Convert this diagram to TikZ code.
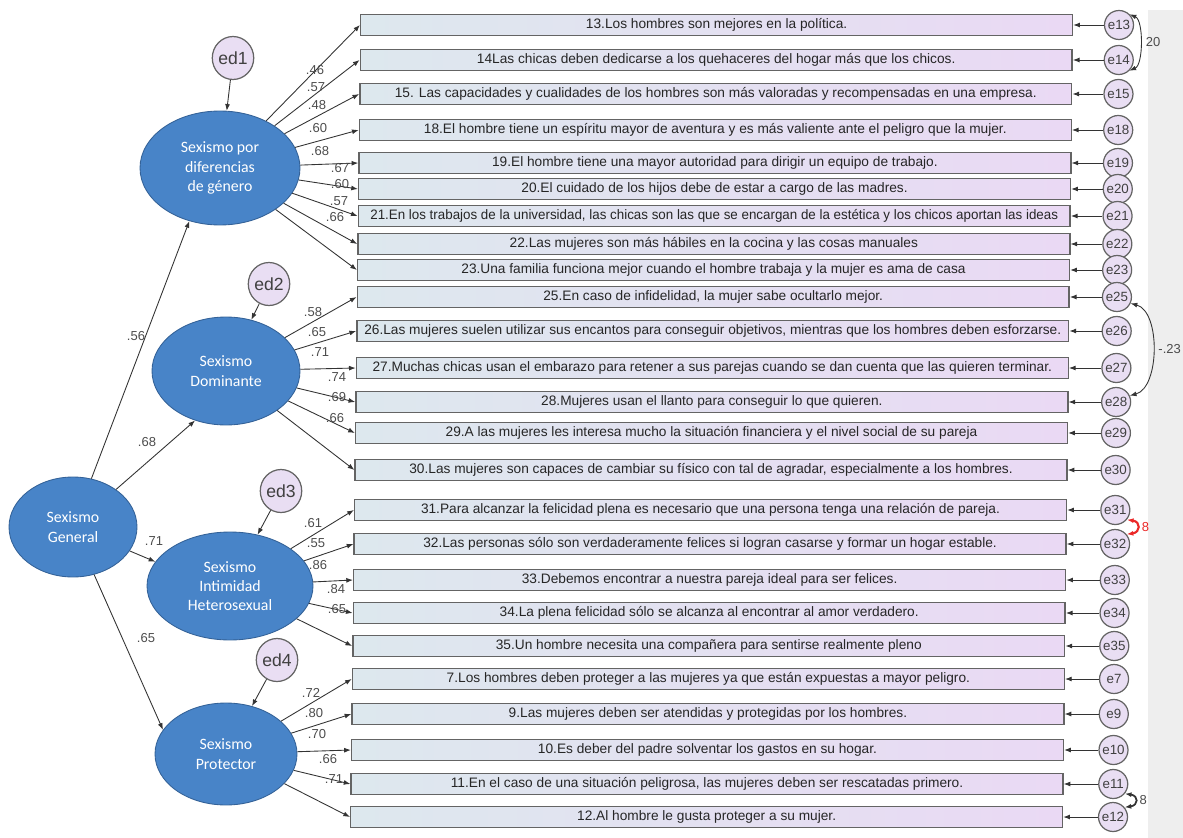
\documentclass[tikz,border=0pt]{standalone}
\usepackage{fontspec}
\usepackage{graphicx}
\setmainfont{Liberation Sans}
\newfontfamily\latfont{Carlito}
\usetikzlibrary{shapes.geometric,arrows.meta}

\definecolor{latblue}{RGB}{72,132,200}
\definecolor{latedge}{RGB}{52,98,152}
\definecolor{errfill}{RGB}{233,222,243}
\definecolor{boxleft}{RGB}{221,232,238}
\definecolor{boxright}{RGB}{234,217,244}
\definecolor{edgegray}{RGB}{100,100,100}
\definecolor{bandgray}{RGB}{238,238,238}
\definecolor{covred}{RGB}{235,40,40}

\tikzset{
  latent/.style={ellipse, fill=latblue, draw=latedge, line width=0.5pt, text=white,
    align=center, inner sep=0pt, font=\latfont\fontsize{9}{11}\selectfont},
  item/.style={rectangle, draw=edgegray, line width=0.8pt, left color=boxleft,
    right color=boxright, minimum width=14.24cm, minimum height=0.42cm, inner sep=0pt,
    anchor=west, text=black!85, font=\fontsize{7.8}{8}\selectfont},
  err/.style={circle, draw=edgegray, line width=0.7pt, fill=errfill, minimum size=0.58cm,
    inner sep=0pt, text=black!75, font=\fontsize{7.6}{8}\selectfont},
  dist/.style={ellipse, draw=edgegray, line width=0.7pt, fill=errfill, minimum width=0.8cm,
    minimum height=0.86cm, inner sep=0pt, text=black!75, font=\fontsize{10}{12}\selectfont},
  link/.style={-{Latex[length=3.8pt,width=2.8pt]}, line width=0.5pt, black!80},
  cov/.style={{Latex[length=3.8pt,width=2.8pt]}-{Latex[length=3.8pt,width=2.8pt]},
    line width=0.5pt, black!80},
  coef/.style={inner sep=0pt, text=black!70, font=\fontsize{7.4}{8}\selectfont},
}

\begin{document}
\begin{tikzpicture}[x=0.02cm, y=-0.02cm]
  \useasboundingbox (0,0) rectangle (1183,838);

  % franja gris de la derecha
  \fill[bandgray] (1148,10) rectangle (1183,838);

  % Factores latentes
  \node[latent, minimum width=2.56cm, minimum height=2cm] (gen) at (73,527) {Sexismo\\General};
  \node[latent, minimum width=3.2cm, minimum height=2.28cm] (dif) at (220,168) {Sexismo por\\diferencias\\de género};
  \node[latent, minimum width=2.96cm, minimum height=2.16cm] (dom) at (226,371) {Sexismo\\Dominante};
  \node[latent, minimum width=3.32cm, minimum height=2.16cm] (int) at (230,586) {Sexismo\\Intimidad\\Heterosexual};
  \node[latent, minimum width=2.84cm, minimum height=2.04cm] (pro) at (226,754) {Sexismo\\Protector};

  % Perturbaciones
  \node[dist] (ed1) at (233,58) {ed1};
  \node[dist] (ed2) at (269,284) {ed2};
  \node[dist] (ed3) at (281,491) {ed3};
  \node[dist] (ed4) at (277,660) {ed4};

  % Sexismo por diferencias de género
  \foreach \n/\y/\w/\lx/\ly/\txt in {
    13/25/.46/315/70/{13.Los hombres son mejores en la política.},
    14/60/.57/316/87/{14Las chicas deben dedicarse a los quehaceres del hogar más que los chicos.},
    15/94/.48/317/105/{15. Las capacidades y cualidades de los hombres son más valoradas y recompensadas en una empresa.},
    18/130/.60/318/128/{18.El hombre tiene un espíritu mayor de aventura y es más valiente ante el peligro que la mujer.},
    19/163/.68/320/151/{19.El hombre tiene una mayor autoridad para dirigir un equipo de trabajo.},
    20/189/.67/340/168/{20.El cuidado de los hijos debe de estar a cargo de las madres.},
    21/216/.60/340/184/{\scalebox{0.975}[1]{21.En los trabajos de la universidad, las chicas son las que se encargan de la estética y los chicos aportan las ideas}},
    22/244/.57/339/201/{22.Las mujeres son más hábiles en la cocina y las cosas manuales},
    23/270/.66/335/217/{23.Una familia funciona mejor cuando el hombre trabaja y la mujer es ama de casa}}{
    \pgfmathsetmacro\dx{10*(\y-25)/792}
    \node[item] (b\n) at ({360-\dx},\y) {\txt};
    \node[err] (e\n) at ({1119-0.6*\dx},\y) {e\n};
    \draw[link] (e\n) -- (b\n);
    \draw[link] (dif) -- (b\n.west);
    \node[coef] (c\n) at (\lx,\ly) {\w};
  }

  % Sexismo dominante
  \foreach \n/\y/\w/\lx/\ly/\txt in {
    25/297/.58/313/312/{25.En caso de infidelidad, la mujer sabe ocultarlo mejor.},
    26/331/.65/317/332/{26.Las mujeres suelen utilizar sus encantos para conseguir objetivos, mientras que los hombres deben esforzarse.},
    27/368/.71/320/352/{27.Muchas chicas usan el embarazo para retener a sus parejas cuando se dan cuenta que las quieren terminar.},
    28/402/.74/337/377/{28.Mujeres usan el llanto para conseguir lo que quieren.},
    29/433/.69/337/397/{29.A las mujeres les interesa mucho la situación financiera y el nivel social de su pareja},
    30/470/.66/335/418/{30.Las mujeres son capaces de cambiar su físico con tal de agradar, especialmente a los hombres.}}{
    \pgfmathsetmacro\dx{10*(\y-25)/792}
    \node[item] (b\n) at ({360-\dx},\y) {\txt};
    \node[err] (e\n) at ({1119-0.6*\dx},\y) {e\n};
    \draw[link] (e\n) -- (b\n);
    \draw[link] (dom) -- (b\n.west);
    \node[coef] (c\n) at (\lx,\ly) {\w};
  }

  % Sexismo intimidad heterosexual
  \foreach \n/\y/\w/\lx/\ly/\txt in {
    31/510/.61/313/523/{31.Para alcanzar la felicidad plena es necesario que una persona tenga una relación de pareja.},
    32/544/.55/316/543/{32.Las personas sólo son verdaderamente felices si logran casarse y formar un hogar estable.},
    33/580/.86/318/565/{33.Debemos encontrar a nuestra pareja ideal para ser felices.},
    34/613/.84/336/589/{34.La plena felicidad sólo se alcanza al encontrar al amor verdadero.},
    35/646/.65/337/609/{35.Un hombre necesita una compañera para sentirse realmente pleno}}{
    \pgfmathsetmacro\dx{10*(\y-25)/792}
    \node[item] (b\n) at ({360-\dx},\y) {\txt};
    \node[err] (e\n) at ({1119-0.6*\dx},\y) {e\n};
    \draw[link] (e\n) -- (b\n);
    \draw[link] (int) -- (b\n.west);
    \node[coef] (c\n) at (\lx,\ly) {\w};
  }

  % Sexismo protector
  \foreach \n/\y/\txt in {
    7/679/{7.Los hombres deben proteger a las mujeres ya que están expuestas a mayor peligro.},
    9/714/{9.Las mujeres deben ser atendidas y protegidas por los hombres.},
    10/750/{10.Es deber del padre solventar los gastos en su hogar.},
    11/784/{11.En el caso de una situación peligrosa, las mujeres deben ser rescatadas primero.},
    12/817/{12.Al hombre le gusta proteger a su mujer.}}{
    \pgfmathsetmacro\dx{10*(\y-25)/792}
    \node[item] (b\n) at ({360-\dx},\y) {\txt};
    \node[err] (e\n) at ({1119-0.6*\dx},\y) {e\n};
    \draw[link] (e\n) -- (b\n);
    \draw[link] (pro) -- (b\n.west);
  }
  \foreach \n/\w/\lx/\ly in {7/.72/311/693, 9/.80/314/713, 10/.70/317/734, 11/.66/328/759, 12/.71/334/779}
    \node[coef] (c\n) at (\lx,\ly) {\w};

  % Perturbaciones a factores
  \draw[link] (ed1) -- (dif);
  \draw[link] (ed2) -- (dom);
  \draw[link] (ed3) -- (int);
  \draw[link] (ed4) -- (pro);

  % Factor general
  \draw[link] (gen) -- (dif.240);
  \draw[link] (gen) -- (dom.238);
  \draw[link] (gen) -- (int.162);
  \draw[link] (gen) -- (pro.159);
  \node[coef] (g1) at (136,336) {.56};
  \node[coef] (g2) at (147,442) {.68};
  \node[coef] (g3) at (154,541) {.71};
  \node[coef] (g4) at (146,638) {.65};

  % Covarianzas
  \draw[cov] (e13.45) .. controls +(14,6) and +(14,-6) .. (e14.-45)
    node[coef, pos=0.5, right, xshift=3pt] (r1) {20};
  \draw[cov] (e25.-25) .. controls +(30,8) and +(30,-8) .. (e28.25)
    node[coef, pos=0.5, right, xshift=3pt] (r2) {-.23};
  \draw[cov, covred, line width=1.2pt] (e31.-40) .. controls +(14,2) and +(14,-2) .. (e32.40)
    node[coef, pos=0.5, right, xshift=2pt, text=covred] (r3) {8};
  \draw[cov, line width=1pt] (e11.-40) .. controls +(14,2) and +(14,-2) .. (e12.40)
    node[coef, pos=0.5, right, xshift=2pt] (r4) {8};
\end{tikzpicture}
\end{document}
